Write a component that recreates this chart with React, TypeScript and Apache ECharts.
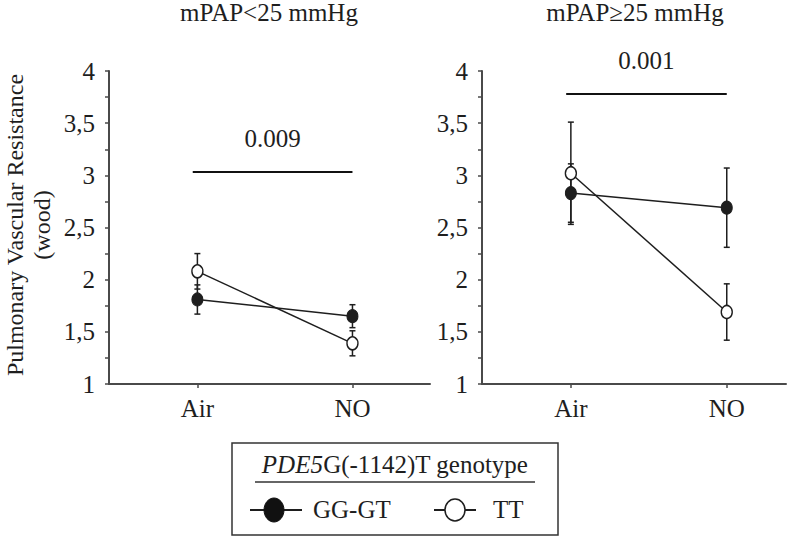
import React, { useEffect, useRef } from "react";
import * as echarts from "echarts";

const categories = ["Air", "NO"];
const panelTitles = ["mPAP<25 mmHg", "mPAP≥25 mmHg"];
const yTitle = "Pulmonary Vascular Resistance";
const yUnit = "(wood)";

// low mPAP panel
const lowGG = [1.81, 1.65];
const lowGGErr = [0.14, 0.11];
const lowTT = [2.08, 1.39];
const lowTTErr = [0.17, 0.12];
// high mPAP panel
const highGG = [2.83, 2.69];
const highGGErr = [0.28, 0.38];
const highTT = [3.02, 1.69];
const highTTErr = [0.49, 0.27];

const pValues = ["0.009", "0.001"];
const pLineLevel = [3.03, 3.78];

const legendTitleItalic = "PDE5";
const legendTitleRest = "G(-1142)T genotype";
const legendNames = ["GG-GT", "TT"];

const FONT = "Liberation Serif, Times New Roman, serif";
const FS = 25;
const INK = "#1e1e1e";
const AXIS = "#4a4a4a";

export default function App() {
  const ref = useRef<HTMLDivElement>(null);
  useEffect(() => {
    if (!ref.current) return;
    const chart = echarts.init(ref.current, undefined, { renderer: "svg" });

    const errBar = (params: any, api: any) => {
      const x = api.value(0);
      const y = api.value(1);
      const e = api.value(2);
      const top = api.coord([x, y + e]);
      const bot = api.coord([x, y - e]);
      const hw = 3;
      const st = { stroke: INK, lineWidth: 1.5 };
      return {
        type: "group",
        children: [
          { type: "line", shape: { x1: top[0], y1: top[1], x2: bot[0], y2: bot[1] }, style: st },
          { type: "line", shape: { x1: top[0] - hw, y1: top[1], x2: top[0] + hw, y2: top[1] }, style: st },
          { type: "line", shape: { x1: bot[0] - hw, y1: bot[1], x2: bot[0] + hw, y2: bot[1] }, style: st },
        ],
      };
    };

    const panels = [
      { gg: lowGG, ggE: lowGGErr, tt: lowTT, ttE: lowTTErr },
      { gg: highGG, ggE: highGGErr, tt: highTT, ttE: highTTErr },
    ];

    const series: any[] = [];
    panels.forEach((p, i) => {
      series.push({
        type: "custom",
        xAxisIndex: i,
        yAxisIndex: i,
        renderItem: errBar,
        z: 2,
        silent: true,
        data: p.gg.map((v, k) => [k, v, p.ggE[k]]),
        encode: { x: 0, y: 1 },
      });
      series.push({
        type: "custom",
        xAxisIndex: i,
        yAxisIndex: i,
        renderItem: errBar,
        z: 2,
        silent: true,
        data: p.tt.map((v, k) => [k, v, p.ttE[k]]),
        encode: { x: 0, y: 1 },
      });
      series.push({
        name: legendNames[0],
        type: "line",
        xAxisIndex: i,
        yAxisIndex: i,
        z: 3,
        symbol: "circle",
        symbolSize: [11, 13],
        data: p.gg.map((v, k) => [k, v]),
        lineStyle: { color: INK, width: 1.5 },
        itemStyle: { color: INK, borderColor: INK, borderWidth: 1 },
        markLine: {
          silent: true,
          symbol: ["none", "none"],
          lineStyle: { color: "#111", width: 2, type: "solid" },
          label: {
            show: true,
            position: "middle",
            formatter: pValues[i],
            fontFamily: FONT,
            fontSize: FS,
            color: INK,
            distance: 21,
          },
          data: [[{ coord: [-0.03, pLineLevel[i]] }, { coord: [1, pLineLevel[i]] }]],
        },
      });
      series.push({
        name: legendNames[1],
        type: "line",
        xAxisIndex: i,
        yAxisIndex: i,
        z: 4,
        symbol: "circle",
        symbolSize: [11, 13],
        data: p.tt.map((v, k) => [k, v]),
        lineStyle: { color: INK, width: 1.5 },
        itemStyle: { color: "#ffffff", borderColor: INK, borderWidth: 1.5 },
      });
    });

    const xAxisCommon = (max: number, idx: number) => ({
      type: "value",
      gridIndex: idx,
      min: -0.57,
      max,
      splitLine: { show: false },
      axisLine: { show: true, onZero: false, lineStyle: { color: AXIS, width: 2 } },
      axisTick: { show: true, customValues: [0, 1], length: 4, lineStyle: { color: AXIS, width: 1.5 } },
      axisLabel: {
        customValues: [0, 1],
        formatter: (v: number) => categories[Math.round(v)] ?? "",
        fontFamily: FONT,
        fontSize: FS,
        color: INK,
        margin: 12,
      },
    });

    const yAxisCommon = (idx: number) => ({
      type: "value",
      gridIndex: idx,
      min: 1,
      max: 4,
      interval: 0.5,
      splitLine: { show: false },
      axisLine: { show: true, onZero: false, lineStyle: { color: AXIS, width: 2 } },
      axisTick: { show: true, length: 4, lineStyle: { color: AXIS, width: 1.5 } },
      minorTick: { show: true, splitNumber: 2, length: 4, lineStyle: { color: AXIS, width: 1.5 } },
      axisLabel: {
        formatter: (v: number) => String(v).replace(".", ","),
        fontFamily: FONT,
        fontSize: FS,
        color: INK,
        margin: 14,
      },
    });

    const txt = { fontFamily: FONT, fontSize: FS, fill: INK };

    chart.setOption({
      animation: false,
      backgroundColor: "#ffffff",
      textStyle: { fontFamily: FONT },
      title: [
        {
          text: panelTitles[0],
          left: 269,
          top: 0,
          padding: 0,
          textAlign: "center",
          textStyle: { fontFamily: FONT, fontSize: FS, fontWeight: "normal", color: INK },
        },
        {
          text: panelTitles[1],
          left: 635,
          top: 0,
          padding: 0,
          textAlign: "center",
          textStyle: { fontFamily: FONT, fontSize: FS, fontWeight: "normal", color: INK },
        },
      ],
      grid: [
        { left: 109, top: 71, width: 321, height: 313 },
        { left: 482, top: 71, width: 304, height: 313 },
      ],
      xAxis: [xAxisCommon(1.5, 0), xAxisCommon(1.38, 1)],
      yAxis: [yAxisCommon(0), yAxisCommon(1)],
      series,
      graphic: [
        {
          type: "text",
          x: 15,
          y: 225,
          rotation: Math.PI / 2,
          style: { ...txt, fontSize: 24, text: yTitle, align: "center", verticalAlign: "middle" },
        },
        {
          type: "text",
          x: 42,
          y: 225,
          rotation: Math.PI / 2,
          style: { ...txt, fontSize: 24, text: yUnit, align: "center", verticalAlign: "middle" },
        },
        {
          type: "rect",
          shape: { x: 232, y: 443, width: 326, height: 92 },
          style: { fill: "none", stroke: "#333", lineWidth: 1.5 },
        },
        {
          type: "text",
          x: 395,
          y: 464,
          style: {
            ...txt,
            text: "{i|" + legendTitleItalic + "}" + legendTitleRest,
            rich: { i: { fontStyle: "italic", fontFamily: FONT, fontSize: FS, fill: INK } },
            align: "center",
            verticalAlign: "middle",
          },
        },
        {
          type: "line",
          shape: { x1: 255, y1: 482, x2: 535, y2: 482 },
          style: { stroke: "#333", lineWidth: 1.5 },
        },
        {
          type: "line",
          shape: { x1: 250, y1: 510, x2: 302, y2: 510 },
          style: { stroke: INK, lineWidth: 2 },
        },
        {
          type: "ellipse",
          shape: { cx: 274, cy: 510, rx: 10, ry: 12 },
          style: { fill: "#111", stroke: "#111", lineWidth: 1 },
        },
        {
          type: "text",
          x: 313,
          y: 509,
          style: { ...txt, text: legendNames[0], align: "left", verticalAlign: "middle" },
        },
        {
          type: "line",
          shape: { x1: 434, y1: 510, x2: 476, y2: 510 },
          style: { stroke: INK, lineWidth: 2 },
        },
        {
          type: "ellipse",
          shape: { cx: 455, cy: 510, rx: 10, ry: 11 },
          style: { fill: "#ffffff", stroke: INK, lineWidth: 1.5 },
        },
        {
          type: "text",
          x: 493,
          y: 509,
          style: { ...txt, text: legendNames[1], align: "left", verticalAlign: "middle" },
        },
      ],
    });
    return () => chart.dispose();
  }, []);
  return (
    <div
      ref={ref}
      style={{ position: "fixed", left: 0, top: 0, width: 788, height: 537, background: "#fff" }}
    />
  );
}
